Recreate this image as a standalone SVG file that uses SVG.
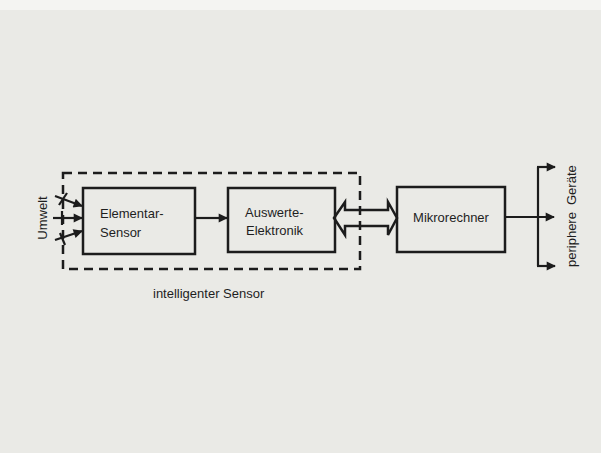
<svg xmlns="http://www.w3.org/2000/svg" width="601" height="453" viewBox="0 0 601 453">
  <style>
    .box { fill: none; stroke: #1c1c1c; stroke-width: 2.5; }
    .line { fill: none; stroke: #1c1c1c; stroke-width: 2.2; }
    .dash { fill: none; stroke: #1c1c1c; stroke-width: 2.5; stroke-dasharray: 9 6; }
    .txt { font-family: "Liberation Sans", Arial, sans-serif; font-size: 13px; fill: #1e1e1e; }
  </style>
  <defs>
    <marker id="ah" viewBox="0 0 10 10" refX="9" refY="5" markerWidth="4.6" markerHeight="4.2" orient="auto" markerUnits="strokeWidth">
      <path d="M0,0 L10,5 L0,10 Z" fill="#1c1c1c"/>
    </marker>
  </defs>
  <rect x="0" y="0" width="601" height="453" fill="#eaeae6"/>
  <rect x="0" y="0" width="601" height="10" fill="#f4f4f2"/>

  <g id="connectors">
    <line class="line" x1="55" y1="196" x2="82" y2="206" marker-end="url(#ah)"/>
    <line class="line" x1="53" y1="218" x2="82" y2="218" marker-end="url(#ah)"/>
    <line class="line" x1="55" y1="240" x2="82" y2="231" marker-end="url(#ah)"/>
    <line class="line" x1="59" y1="205" x2="67" y2="193"/>
    <line class="line" x1="62" y1="211" x2="62" y2="225"/>
    <line class="line" x1="60" y1="233" x2="65" y2="245"/>
    <line class="line" x1="195" y1="218" x2="227" y2="218" marker-end="url(#ah)"/>
    <polygon points="334,218 345,202 345,210 388,210 388,202 397,218 388,235 388,226 345,226 345,235" fill="#eaeae6" stroke="#1c1c1c" stroke-width="2.5" stroke-linejoin="miter"/>
    <line class="line" x1="505" y1="217" x2="554" y2="217" marker-end="url(#ah)"/>
    <line class="line" x1="538" y1="167" x2="538" y2="266"/>
    <line class="line" x1="537" y1="167" x2="555" y2="167" marker-end="url(#ah)"/>
    <line class="line" x1="537" y1="266" x2="555" y2="266" marker-end="url(#ah)"/>
  </g>

  <g id="intelligenter-sensor">
    <rect class="dash" x="63" y="173" width="297" height="96"/>
    <text class="txt" x="153" y="298">intelligenter Sensor</text>
  </g>

  <g id="umwelt">
    <text class="txt" transform="translate(47,218) rotate(-90)" text-anchor="middle">Umwelt</text>
  </g>

  <g id="elementar-sensor">
    <rect class="box" x="83" y="188" width="112" height="66"/>
    <text class="txt" x="100" y="218">Elementar-</text>
    <text class="txt" x="100" y="237">Sensor</text>
  </g>

  <g id="auswerte-elektronik">
    <rect class="box" x="228" y="188" width="107" height="64"/>
    <text class="txt" x="245" y="217">Auswerte-</text>
    <text class="txt" x="246" y="235">Elektronik</text>
  </g>

  <g id="mikrorechner">
    <rect class="box" x="397" y="187" width="108" height="65"/>
    <text class="txt" x="451" y="222" text-anchor="middle">Mikrorechner</text>
  </g>

  <g id="periphere-geraete">
    <text class="txt" transform="translate(576,267) rotate(-90)">periphere</text>
    <text class="txt" transform="translate(576,205) rotate(-90)">Geräte</text>
  </g>
</svg>
